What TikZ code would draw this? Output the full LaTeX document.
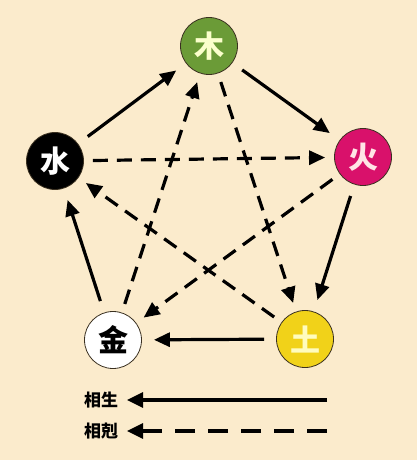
\documentclass[tikz,border=0pt]{standalone}
\usepackage{fontspec}
\newfontfamily\cjk{Noto Sans CJK SC}
\usetikzlibrary{arrows.meta}
\definecolor{bg}{HTML}{FBEBCC}
\definecolor{wood}{HTML}{6B9B37}
\definecolor{fire}{HTML}{D9116B}
\definecolor{earth}{HTML}{F1D219}
\definecolor{rim}{HTML}{3A3020}
\tikzset{
  elem/.style={circle, minimum size=57pt, inner sep=0pt, draw=rim, line width=0.8pt,
    font=\cjk\bfseries\fontsize{30}{30}\selectfont},
  gen/.style={line width=3.2pt, -{Triangle[length=16pt,width=14pt]}, shorten <=12pt, shorten >=12pt},
  ctrl/.style={line width=3.2pt, dash pattern=on 15pt off 9pt, -{Triangle[length=16pt,width=14pt]}, shorten <=9pt, shorten >=9pt},
  legtext/.style={font=\cjk\bfseries\fontsize{17}{17}\selectfont, text=black},
}
\begin{document}
\begin{tikzpicture}[x=1pt,y=-1pt]
\fill[bg] (0,0) rectangle (417,460);
\useasboundingbox (0,0) rectangle (417,460);
\node[elem, fill=wood, text=green!8!yellow!20!white] (mu) at (209,46) {木};
\node[elem, fill=fire, text=pink!40!white] (huo) at (363,157) {火};
\node[elem, fill=earth, text=yellow!25!white] (tu) at (305,339) {土};
\node[elem, fill=white, text=black] (jin) at (113,340) {金};
\node[elem, fill=black, text=white] (shui) at (55,161) {水};
% generating
\draw[gen] (shui) -- (mu);
\draw[gen] (mu) -- (huo);
\draw[gen] (huo) -- (tu);
\draw[gen] (tu) -- (jin);
\draw[gen] (jin) -- (shui);
% overcoming
\draw[ctrl] (mu) -- (tu);
\draw[ctrl] (tu) -- (shui);
\draw[ctrl] (shui) -- (huo);
\draw[ctrl] (huo) -- (jin);
\draw[ctrl] (jin) -- (mu);
% legend
\node[legtext] (l1) at (101,400) {相生};
\node[legtext] (l2) at (101,431) {相剋};
\coordinate (a1) at (327,400);
\coordinate (b1) at (127,400);
\coordinate (a2) at (327,431);
\coordinate (b2) at (127,431);
\draw[line width=3.2pt, -{Triangle[length=16pt,width=15pt]}] (a1) -- (b1);
\draw[line width=3.2pt, dash pattern=on 20pt off 13pt, -{Triangle[length=16pt,width=15pt]}] (a2) -- (b2);
\end{tikzpicture}
\end{document}
